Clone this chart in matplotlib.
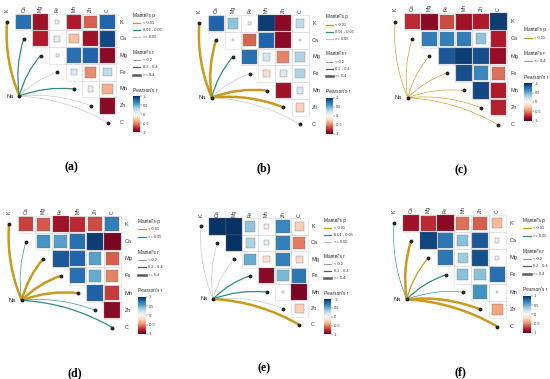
import numpy as np
import matplotlib.pyplot as plt
from matplotlib.patches import Rectangle, PathPatch
from matplotlib.path import Path
from matplotlib.colors import Normalize
from matplotlib.cm import ScalarMappable

plt.rcParams['font.family'] = ['Liberation Sans', 'DejaVu Sans']

elements = ['K', 'Ca', 'Mg', 'Fe', 'Mn', 'Zn', 'C']
p_levels = ['< 0.01', '0.01 - 0.05', '>= 0.05']
r_levels = ['< 0.2', '0.2 - 0.4', '>= 0.4']
panel_names = ['(a)', '(b)', '(c)', '(d)', '(e)', '(f)']

# Pearson's r, upper triangle row by row: K-Ca, K-Mg, ..., Mn-C, Zn-C
r_a = [0.75, -0.85, 0.05, -0.8, -0.6, 0.8,
       -0.8, 0.12, -0.3, -0.85, 0.9,
       0.04, 0.75, 0.8, -0.9,
       0.15, -0.47, 0.25,
       0.1, -0.36,
       -0.9]
r_b = [0.8, 0.4, 0.04, 0.95, -0.9, 0.25,
       0.02, -0.58, 0.8, -0.9, 0.02,
       0.75, 0.19, -0.5, 0.3,
       -0.16, 0.15, 0.3,
       -0.85, 0.16,
       -0.25]
r_c = [-0.75, -0.9, -0.65, -0.85, -0.8, 0.95,
       0.7, 0.68, 0.7, 0.4, -0.8,
       0.85, 0.95, 0.88, -0.88,
       0.88, 0.65, -0.55,
       0.9, -0.8,
       -0.78]
r_d = [-0.68, -0.62, -0.85, -0.75, -0.65, 0.7,
       0.6, 0.55, 0.75, 0.95, -0.95,
       0.85, 0.8, 0.55, -0.6,
       0.75, 0.5, -0.5,
       0.82, -0.7,
       -0.9]
r_e = [0.99, 0.99, 0.4, -0.1, 0.65, -0.25,
       0.99, 0.32, 0.1, 0.68, -0.52,
       0.5, -0.15, 0.68, -0.2,
       -0.9, 0.45, 0.72,
       0.02, -0.95,
       -0.25]
r_f = [-0.85, -0.75, -0.9, -0.55, -0.6, -0.32,
       0.92, 0.72, 0.42, 0.85, 0.07,
       0.72, 0.36, 0.88, 0.06,
       0.42, 0.42, 0.75,
       0.6, 0.02,
       -0.4]

# Mantel test of Na against K..C: index into p_levels / r_levels
mantel_p_a = [0, 1, 1, 2, 1, 2, 2]
mantel_r_a = [2, 1, 1, 0, 1, 0, 0]
mantel_p_b = [0, 0, 1, 2, 0, 0, 2]
mantel_r_b = [2, 2, 1, 0, 2, 2, 0]
mantel_p_c = [0, 0, 0, 0, 0, 0, 0]
mantel_r_c = [2, 2, 2, 2, 2, 2, 2]
mantel_p_d = [0, 2, 0, 0, 0, 2, 2]
mantel_r_d = [2, 0, 2, 2, 2, 0, 1]
mantel_p_e = [2, 2, 2, 1, 1, 2, 0]
mantel_r_e = [0, 0, 0, 1, 1, 0, 2]
mantel_p_f = [2, 0, 0, 2, 2, 0, 0]
mantel_r_f = [0, 2, 1, 1, 0, 2, 2]

pearson = [r_a, r_b, r_c, r_d, r_e, r_f]
mantel_p = [mantel_p_a, mantel_p_b, mantel_p_c, mantel_p_d, mantel_p_e, mantel_p_f]
mantel_r = [mantel_r_a, mantel_r_b, mantel_r_c, mantel_r_d, mantel_r_e, mantel_r_f]

# layout: panel box (px) , position of K diagonal point (px), cell size (px)
W, H = 550, 379
boxes = [(0, 0, 183, 190), (183, 0, 366, 190), (366, 0, 550, 190),
         (0, 190, 183, 379), (183, 190, 366, 379), (366, 190, 550, 379)]
origins = [(7, 22, 16.75), (199.3, 23.3, 16.8), (395, 21.7, 17.2),
           (9, 224.3, 17.2), (201, 226.5, 16.4), (394, 223.3, 17.2)]

link_cols = ['#C99A1E', '#2E8C80', '#C4C4C4']
link_lws = [0.45, 0.9, 1.8]
na_pos = (0.74, -4.42)
cmap = plt.get_cmap('RdBu')
norm = Normalize(-1, 1)


def draw_panel(fig, ax, rvals, pcat, rcat, name):
    n = len(elements)
    k = 0
    for i in range(n):
        for j in range(i + 1, n):
            ax.add_patch(Rectangle((j - 0.5, -i - 0.5), 1, 1, fc='none',
                                   ec='#D8D8D8', lw=0.4))
            side = np.sqrt(abs(rvals[k]))
            ax.add_patch(Rectangle((j - side / 2, -i - side / 2), side, side,
                                   fc=cmap(norm(rvals[k])), ec='#6E6E6E', lw=0.25))
            k += 1

    # links Na -> element
    present_p = sorted(set(pcat))
    present_r = sorted(set(rcat))
    for m in range(n):
        x1, y1 = na_pos
        x2, y2 = m, -m
        dx, dy = x2 - x1, y2 - y1
        cx = (x1 + x2) / 2 - 0.12 * dy
        cy = (y1 + y2) / 2 + 0.12 * dx
        path = Path([(x1, y1), (cx, cy), (x2, y2)],
                    [Path.MOVETO, Path.CURVE3, Path.CURVE3])
        ax.add_patch(PathPatch(path, fc='none',
                               ec=link_cols[present_p.index(pcat[m])],
                               lw=link_lws[present_r.index(rcat[m])],
                               capstyle='butt', zorder=3))
    ax.plot(range(n), -np.arange(n), 'o', ms=1.8, color='#222222', zorder=4)
    ax.plot(*na_pos, 'o', ms=1.8, color='#222222', zorder=4)
    ax.text(na_pos[0] - 0.35, na_pos[1], 'Na', ha='right', va='center',
            fontsize=4, color='#222222')

    for j, e in enumerate(elements):
        ax.text(j, 0.6, e, rotation=90, ha='center', va='bottom',
                fontsize=3.8, color='#333333')
        ax.text(6.72, -j, e, ha='left', va='center', fontsize=4, color='#333333')

    # legends stacked and centred
    np_, nr_ = len(present_p), len(present_r)
    total = 0.47 + (np_ - 1) * 0.42 + 0.9 + 0.47 + (nr_ - 1) * 0.42 + 0.93 + 0.36 + 2.16
    row = 3.1 - total / 2
    lx0, lx1, tx = 7.52, 7.95, 8.1
    ax.text(lx0, -row, "Mantel's p", ha='left', va='center', fontsize=3.4, color='#222222')
    for q, lev in enumerate(present_p):
        row += 0.47 if q == 0 else 0.42
        ax.plot([lx0, lx1], [-row, -row], color=link_cols[q], lw=0.9)
        ax.text(tx, -row, p_levels[lev], ha='left', va='center', fontsize=2.9, color='#333333')
    row += 0.9
    ax.text(lx0, -row, "Mantel's r", ha='left', va='center', fontsize=3.4, color='#222222')
    for q, lev in enumerate(present_r):
        row += 0.47 if q == 0 else 0.42
        ax.plot([lx0, lx1], [-row, -row], color='#595959', lw=link_lws[q])
        ax.text(tx, -row, r_levels[lev], ha='left', va='center', fontsize=2.9, color='#333333')
    row += 0.93
    ax.text(lx0, -row, "Pearson's r", ha='left', va='center', fontsize=3.4, color='#222222')
    row += 0.36
    cax = ax.inset_axes([lx0, -row - 2.16, 0.42, 2.16], transform=ax.transData)
    cb = fig.colorbar(ScalarMappable(norm, cmap), cax=cax, ticks=[-1, -0.5, 0, 0.5, 1])
    cb.ax.set_yticklabels(['-1', '-0.5', '0', '0.5', '1'])
    cb.outline.set_visible(False)
    cb.ax.tick_params(labelsize=2.8, length=1.2, width=0.3, pad=1, colors='#333333')

    ax.text(3.85, -8.65, name, ha='center', va='center', fontsize=8.5,
            family='Liberation Serif', weight='bold')


fig = plt.figure(figsize=(W / 100, H / 100), dpi=100)
for p in range(6):
    L, T, R, B = boxes[p]
    x0, y0, s = origins[p]
    ax = fig.add_axes([L / W, 1 - B / H, (R - L) / W, (B - T) / H])
    ax.set_xlim((L - x0) / s, (R - x0) / s)
    ax.set_ylim(-(B - y0) / s, -(T - y0) / s)
    ax.axis('off')
    draw_panel(fig, ax, pearson[p], mantel_p[p], mantel_r[p], panel_names[p])

fig.savefig('out.png', dpi=100)
